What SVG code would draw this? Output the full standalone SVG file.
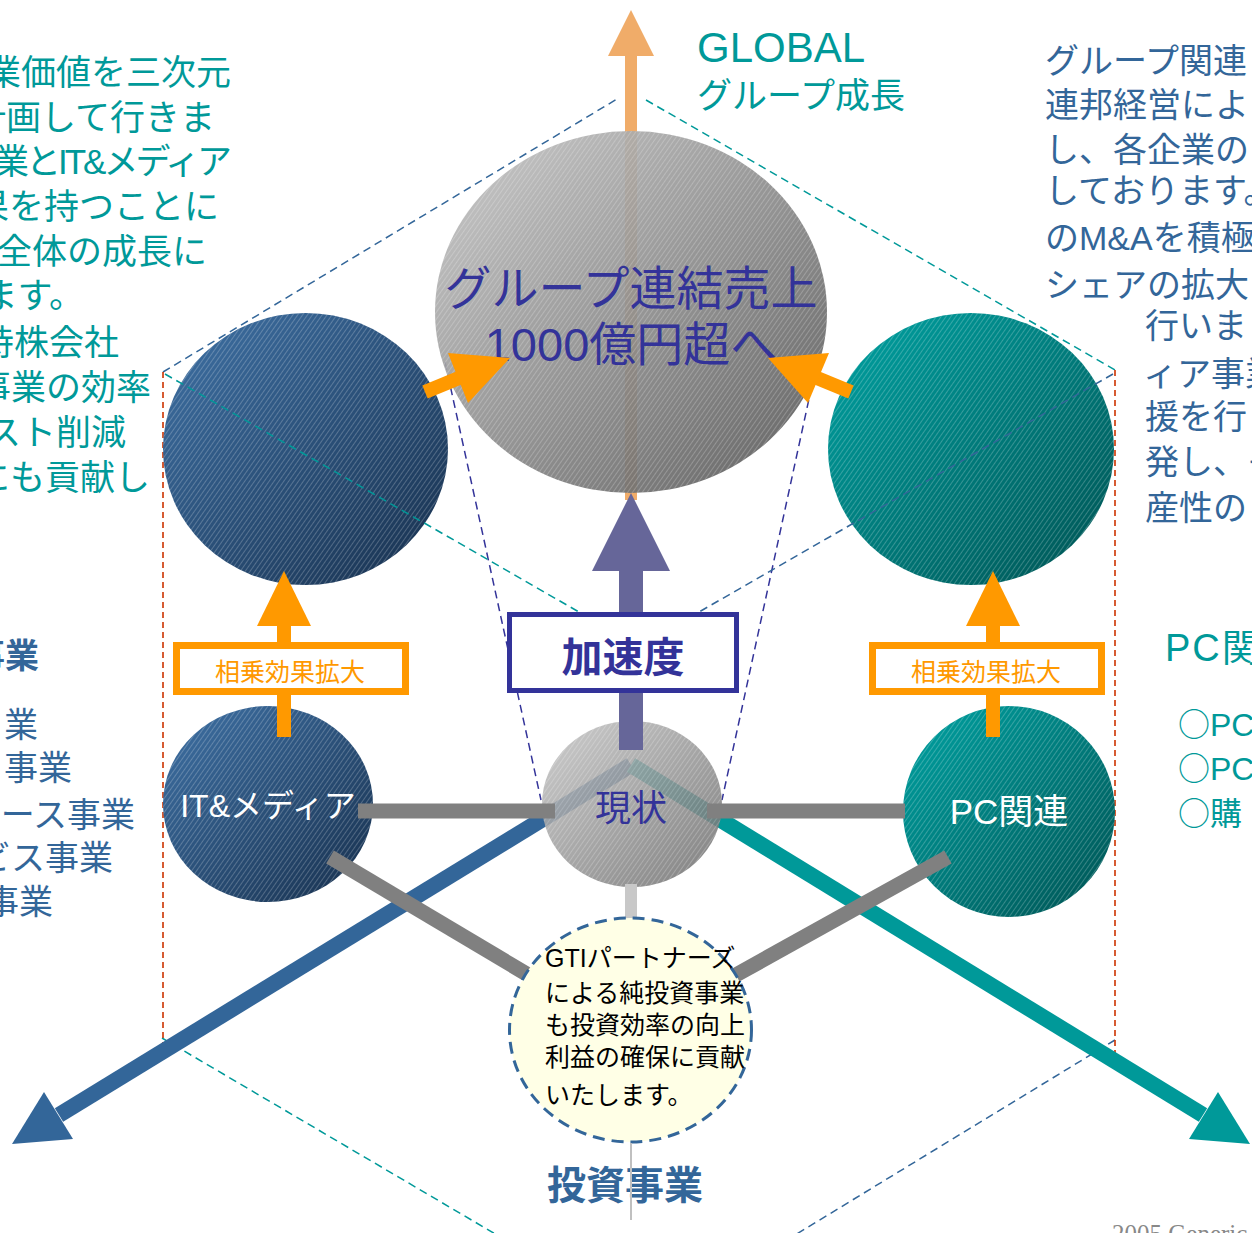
<svg xmlns="http://www.w3.org/2000/svg" width="1252" height="1233" viewBox="0 0 1252 1233">
<defs>
<linearGradient id="gGray" x1="0" y1="0" x2="1" y2="1"><stop offset="0" stop-color="#cacaca"/><stop offset="1" stop-color="#555555"/></linearGradient>
<linearGradient id="gGray2" x1="0" y1="0" x2="1" y2="1"><stop offset="0" stop-color="#c8c8c8"/><stop offset="1" stop-color="#6a6a6a"/></linearGradient>
<linearGradient id="gBlue" x1="0" y1="0" x2="1" y2="1"><stop offset="0" stop-color="#3f72a6"/><stop offset="1" stop-color="#172f4c"/></linearGradient>
<linearGradient id="gTeal" x1="0" y1="0" x2="1" y2="1"><stop offset="0" stop-color="#00a3a3"/><stop offset="1" stop-color="#005252"/></linearGradient>
<pattern id="hatch" width="4" height="4" patternUnits="userSpaceOnUse" patternTransform="rotate(35)"><line x1="0.5" y1="0" x2="0.5" y2="4" stroke="#ffffff" stroke-opacity="0.28" stroke-width="0.8"/></pattern>
</defs>
<style>
.jp{font-family:"Liberation Sans","Noto Sans CJK JP",sans-serif}
.cjk{font-family:"Noto Sans CJK JP",sans-serif}
.teal{fill:#009999}
.blue{fill:#336699}
.guide{fill:none;stroke-width:1.5;stroke-dasharray:8 5}
.hat{fill:url(#hatch)}
.orng{fill:#FF9900}
.gbar{stroke:#808080;stroke-width:15;fill:none}
.sbox{fill:#ffffff;stroke:#FF9900;stroke-width:7}
</style>
<rect width="1252" height="1233" fill="#ffffff"/>

<g id="guides">
<line class="guide" x1="163" y1="372" x2="617" y2="99" stroke="#336699"/>
<line class="guide" x1="646" y1="100" x2="1115" y2="370" stroke="#009999"/>
<line class="guide" x1="162" y1="1038" x2="497" y2="1235" stroke="#009999"/>
<line class="guide" x1="1115" y1="1040" x2="795" y2="1235" stroke="#336699"/>
<line x1="163" y1="372" x2="163" y2="1053" stroke="#CC3300" stroke-width="1.6" stroke-dasharray="6 4"/>
<line x1="1115" y1="370" x2="1115" y2="1053" stroke="#CC3300" stroke-width="1.6" stroke-dasharray="6 4"/>
<line class="guide" x1="445" y1="362" x2="541" y2="800" stroke="#333399" stroke-width="1.8"/>
<line class="guide" x1="817" y1="362" x2="722" y2="800" stroke="#333399" stroke-width="1.8"/>
</g>

<g id="global-arrow">
<rect x="625" y="54" width="12" height="446" fill="#F0AC69"/>
<polygon points="631,10 608,56 654,56" fill="#F0AC69"/>
</g>

<g id="node-target" opacity="0.93">
<ellipse cx="631" cy="312" rx="196" ry="181" fill="url(#gGray)"/>
<ellipse class="hat" cx="631" cy="312" rx="196" ry="181"/>
</g>

<g id="node-left-big">
<ellipse cx="305.5" cy="449" rx="142.5" ry="136" fill="url(#gBlue)"/>
<ellipse class="hat" cx="305.5" cy="449" rx="142.5" ry="136"/>
</g>
<g id="node-right-big">
<ellipse cx="971" cy="449" rx="143" ry="136" fill="url(#gTeal)"/>
<ellipse class="hat" cx="971" cy="449" rx="143" ry="136"/>
</g>

<g id="inner-guides">
<line class="guide" x1="165" y1="374" x2="579" y2="612" stroke="#009999"/>
<line class="guide" x1="1113" y1="374" x2="699" y2="612" stroke="#336699"/>
</g>

<g id="target-text">
<text class="jp" x="631" y="305" font-size="47" fill="#333399" text-anchor="middle">グループ連結売上</text>
<text class="jp" x="631" y="361" font-size="47" fill="#333399" text-anchor="middle">1000億円超へ</text>
</g>

<g id="connectors-back">
<line x1="425" y1="392" x2="459" y2="378" stroke="#FF9900" stroke-width="14"/>
<polygon class="orng" points="510,358 448,353 468,403"/>
<line x1="851" y1="392" x2="817" y2="378" stroke="#FF9900" stroke-width="14"/>
<polygon class="orng" points="768,358 829,353 808,403"/>
<line x1="631" y1="765" x2="59" y2="1115" stroke="#336699" stroke-width="16"/>
<polygon points="12,1144 44,1092 73,1139" fill="#336699"/>
<line x1="631" y1="765" x2="1203" y2="1115" stroke="#009999" stroke-width="16"/>
<polygon points="1250,1144 1218,1092 1189,1139" fill="#009999"/>
</g>

<g id="node-current" opacity="0.86">
<ellipse cx="632" cy="804" rx="90" ry="83" fill="url(#gGray2)"/>
<ellipse class="hat" cx="632" cy="804" rx="90" ry="83"/>
</g>

<g id="accel-arrow">
<rect x="619" y="569" width="24" height="181" fill="#666699"/>
<polygon points="631,493 592,571 670,571" fill="#666699"/>
</g>

<g id="node-accel">
<rect x="509.5" y="614.5" width="227" height="76" fill="#ffffff" stroke="#333399" stroke-width="5"/>
<text class="jp" x="623" y="672" font-size="41" font-weight="bold" fill="#333399" text-anchor="middle">加速度</text>
</g>

<g id="node-it">
<ellipse cx="268" cy="804" rx="105" ry="98" fill="url(#gBlue)"/>
<ellipse class="hat" cx="268" cy="804" rx="105" ry="98"/>
</g>
<g id="node-pc">
<ellipse cx="1009" cy="811.5" rx="106" ry="105.5" fill="url(#gTeal)"/>
<ellipse class="hat" cx="1009" cy="811.5" rx="106" ry="105.5"/>
</g>

<g id="connectors">
<line class="gbar" x1="358" y1="811" x2="555" y2="811"/>
<line class="gbar" x1="707" y1="811" x2="905" y2="811"/>
<line class="gbar" x1="330" y1="857" x2="530" y2="976"/>
<line class="gbar" x1="948" y1="857" x2="734" y2="976"/>
<line x1="631" y1="884" x2="631" y2="920" stroke="#C8C8C8" stroke-width="12"/>
<rect x="277" y="624" width="14" height="113" fill="#FF9900"/>
<polygon class="orng" points="284,571 257,626 311,626"/>
<rect x="986" y="624" width="14" height="113" fill="#FF9900"/>
<polygon class="orng" points="993,571 966,626 1020,626"/>
</g>

<g id="node-current-label">
<text class="jp" x="631" y="821" font-size="36" fill="#333399" text-anchor="middle">現状</text>
</g>
<g id="node-it-label">
<text class="jp" x="268" y="817" font-size="32" fill="#ffffff" text-anchor="middle">IT&amp;メディア</text>
</g>
<g id="node-pc-label">
<text class="jp" x="1009" y="824" font-size="35" fill="#ffffff" text-anchor="middle">PC関連</text>
</g>

<g id="node-synergy-left">
<rect class="sbox" x="176.5" y="645.5" width="229" height="46"/>
<text class="jp" x="290" y="681" font-size="25" fill="#FF9900" text-anchor="middle">相乗効果拡大</text>
</g>
<g id="node-synergy-right">
<rect class="sbox" x="872.5" y="645.5" width="229" height="46"/>
<text class="jp" x="986" y="681" font-size="25" fill="#FF9900" text-anchor="middle">相乗効果拡大</text>
</g>

<g id="node-gti">
<ellipse cx="630.5" cy="1030" rx="121" ry="112" fill="#FFFFE6" stroke="#336699" stroke-width="3" stroke-dasharray="12 7"/>
<text class="jp" font-size="25" fill="#000000">
<tspan x="545" y="967">GTIパートナーズ</tspan>
<tspan x="545" y="1002">による純投資事業</tspan>
<tspan x="545" y="1034">も投資効率の向上</tspan>
<tspan x="545" y="1066">利益の確保に貢献</tspan>
<tspan x="545" y="1104">いたします。</tspan>
</text>
</g>

<g id="node-invest">
<text class="jp blue" x="625" y="1199" font-size="39" font-weight="bold" text-anchor="middle">投資事業</text>
<line x1="631" y1="1143" x2="631" y2="1220" stroke="#C0C0C0" stroke-width="2"/>
</g>

<g id="node-global">
<text class="jp teal" x="697" y="62" font-size="42">GLOBAL</text>
<text class="jp teal" x="697" y="108" font-size="35">グループ成長</text>
</g>

<g id="text-left-top" class="jp teal" font-size="35" text-anchor="end">
<text x="231" y="85">業価値を三次元</text>
<text x="215" y="130">計画して行きま</text>
<text x="229" y="174" letter-spacing="-3">業とIT&amp;メディア</text>
<text x="219" y="219">果を持つことに</text>
<text x="207" y="264">全体の成長に</text>
<text x="84" y="308">ます。</text>
<text x="119" y="355">持株会社</text>
<text x="151" y="400">事業の効率</text>
<text x="126" y="445">スト削減</text>
<text x="150" y="490">にも貢献し</text>
</g>

<g id="text-right-top" class="jp blue" font-size="34">
<text x="1045" y="73">グループ関連</text>
<text x="1045" y="117">連邦経営によ</text>
<text x="1045" y="162">し、各企業の</text>
<text x="1045" y="203">しております。</text>
<text x="1045" y="250">のM&amp;Aを積極</text>
<text x="1045" y="297">シェアの拡大</text>
<text x="1145" y="338">行いま</text>
<text x="1143" y="386">ィア事業</text>
<text x="1145" y="429">援を行</text>
<text x="1145" y="474">発し、そ</text>
<text x="1145" y="520">産性の</text>
</g>

<g id="text-left-mid" class="jp blue" font-size="34">
<text x="39" y="668" font-weight="bold" text-anchor="end">事業</text>
<text x="4" y="737">業</text>
<text x="72" y="780" text-anchor="end">事業</text>
<text x="135" y="827" text-anchor="end">ース事業</text>
<text x="113" y="870" text-anchor="end">ビス事業</text>
<text x="53" y="914" text-anchor="end">事業</text>
</g>

<g id="text-right-mid" class="jp teal">
<text x="1165" y="661" font-size="38" letter-spacing="2">PC関</text>
<text x="1178" y="736" font-size="32"><tspan class="cjk">○</tspan>PC</text>
<text x="1178" y="780" font-size="32"><tspan class="cjk">○</tspan>PC</text>
<text x="1178" y="825" font-size="32"><tspan class="cjk">○</tspan>購</text>
</g>

<text x="1112" y="1242" font-family="Liberation Serif, serif" font-size="25" fill="#888888">2005 Generic</text>
</svg>
